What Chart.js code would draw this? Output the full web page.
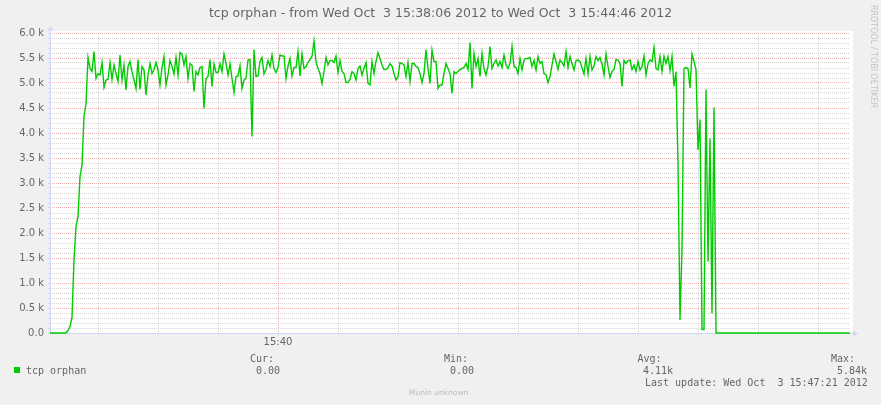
<!DOCTYPE html>
<html>
<head>
<meta charset="utf-8">
<script src="https://cdn.jsdelivr.net/npm/chart.js@4/dist/chart.umd.min.js"></script>
<style>
html,body{margin:0;padding:0;background:#f0f0f0;}
#wrap{position:relative;width:881px;height:405px;overflow:hidden;background:#f0f0f0;}
#c{position:absolute;left:0;top:0;}
.t{position:absolute;font-family:'DejaVu Sans Mono',monospace;font-size:10px;line-height:12px;color:#666;white-space:pre;}
#title{position:absolute;left:0;top:5px;width:881px;text-align:center;font-family:'DejaVu Sans',sans-serif;font-size:12.5px;line-height:15px;color:#666;white-space:pre;}
#swatch{position:absolute;left:14px;top:367px;width:6px;height:6px;background:#00cc00;}
#munin{position:absolute;left:409px;top:388px;font-family:'DejaVu Sans',sans-serif;font-size:7.5px;line-height:10px;color:#bbb;white-space:pre;}
#rrd{position:absolute;left:868px;top:5px;writing-mode:vertical-rl;font-family:'DejaVu Sans',sans-serif;font-size:8px;line-height:10px;color:#c4c4c4;white-space:pre;}
</style>
</head>
<body>
<div id="wrap">
<canvas id="c" width="881" height="405"></canvas>
<div id="title"></div>
<div id="swatch"></div>
<div class="t" id="lname" style="left:26px;top:364.5px;"></div>
<div class="t" id="h0" style="left:250px;top:352.5px;"></div>
<div class="t" id="v0" style="left:256px;top:364.5px;"></div>
<div class="t" id="h1" style="left:444px;top:352.5px;"></div>
<div class="t" id="v1" style="left:450px;top:364.5px;"></div>
<div class="t" id="h2" style="left:637.5px;top:352.5px;"></div>
<div class="t" id="v2" style="left:643px;top:364.5px;"></div>
<div class="t" id="h3" style="left:831px;top:352.5px;"></div>
<div class="t" id="v3" style="left:837px;top:364.5px;"></div>
<div class="t" id="lastupd" style="left:645px;top:377px;"></div>
<div id="munin"></div>
<div id="rrd"></div>
</div>
<script>
// ---------- data ----------
const titleText = 'tcp orphan - from Wed Oct  3 15:38:06 2012 to Wed Oct  3 15:44:46 2012';
const seriesName = 'tcp orphan';
const startTime = [15, 38, 6];          // first sample (h, m, s), one sample per second
const statHeads = ['Cur:', 'Min:', 'Avg:', 'Max:'];
const statValues = ['0.00', '0.00', '4.11k', '5.84k'];
const lastUpdate = 'Last update: Wed Oct  3 15:47:21 2012';
const footerText = 'Munin unknown';
const sideText = 'RRDTOOL / TOBI OETIKER';

// x grid positions (sample index) and labelled ones
const xGridIdx = [24, 54, 84, 114, 144, 174, 204, 234, 264, 294, 324, 354, 384];
const xLabelIdx = [114];
const xLabelText = ['15:40'];

// y axis
const yMin = 0, yMax = 6000, yMinorStep = 100, yMajorStep = 500;

// tcp orphan values, one per second
const orphanValues = [
0,0,0,0,0,0,0,0,0,
50,130,310,1460,2130,2330,3130,3360,4340,4580,
5510,5290,5230,5630,5090,5190,5160,5410,4910,5060,
5070,5410,5070,5360,5190,5030,5560,5060,5360,4860,
5330,5430,5230,5060,4890,5470,4870,5330,5260,4760,
5160,5390,5190,5270,5410,5260,4960,5310,5530,4960,
5160,5450,5330,5180,5510,5160,5610,5580,5360,5530,
5090,5390,5360,4830,5230,5160,5310,5330,4490,
5090,5130,5470,4930,5380,5210,5210,5380,5230,5580,
5390,5160,5390,5090,4810,5130,5140,5340,4890,5060,
5090,5460,5470,3930,5670,5130,5140,5430,5510,5180,
5270,5450,5330,5560,5290,5210,5310,5560,5540,5540,
5090,5340,5490,5140,5310,5310,5630,5140,5580,5290,
5330,5410,5470,5530,5840,5430,5290,5190,4990,5230,
5510,5360,5450,5450,5410,5540,5210,5450,5230,5190,
5010,5010,5070,5230,5190,5060,5290,5340,5160,5290,
5410,4990,4960,5430,5190,5430,5610,5490,5360,5270,
5270,5310,5390,5340,5190,5060,5130,5410,5390,5360,
5130,5410,5030,5390,5390,5330,5310,5190,5010,5190,
5670,5290,4990,5660,5430,5430,4890,4960,4960,5190,
5390,5290,5190,4790,5230,5190,5230,5270,5290,5310,
5390,5270,5810,4890,5590,5330,5490,5130,5590,5290,
5160,5330,5730,5290,5390,5460,5340,5430,5310,5560,
5360,5290,5390,5730,5330,5310,5190,5490,
5260,5460,5490,5490,5510,5330,5450,5260,5530,5390,
5430,5190,5160,5010,5130,5360,5580,5430,5270,5460,
5410,5340,5630,5310,5530,5390,5260,5450,5460,5430,
5310,5180,5490,5180,5530,5260,5340,5530,5450,5510,
5380,5160,5580,5330,5110,5230,5270,5470,5460,5390,
4930,5450,5390,5450,5460,5270,5360,5230,5430,5260,
5330,5540,5160,5390,5460,5430,5710,5290,5260,5530,
5230,5530,5390,5530,5250,5530,4930,
5230,3390,260,1690,5290,5310,5290,4900,5580,5430,
5270,3660,4270,70,70,4870,1430,3890,390,4510,
0,0,0,0,0,0,0,0,0,0,
0,0,0,0,0,0,0,0,0,0,
0,0,0,0,0,0,0,0,0,0,
0,0,0,0,0,0,0,0,0,0,
0,0,0,0,0,0,0,0,0,0,
0,0,0,0,0,0,0,0,0,0,
0,0,0,0,0,0,0,0
];

// category labels: time of each sample
const pad2 = n => String(n).padStart(2, '0');
const timeLabels = orphanValues.map((_, i) => {
  const t = startTime[0] * 3600 + startTime[1] * 60 + startTime[2] + i;
  return pad2(Math.floor(t / 3600)) + ':' + pad2(Math.floor(t / 60) % 60) + ':' + pad2(t % 60);
});

// ---------- text ----------
document.getElementById('title').textContent = titleText;
document.getElementById('lname').textContent = seriesName;
statHeads.forEach((h, i) => {
  document.getElementById('h' + i).textContent = h;
  document.getElementById('v' + i).textContent = statValues[i];
});
document.getElementById('lastupd').textContent = lastUpdate;
document.getElementById('munin').textContent = footerText;
document.getElementById('rrd').textContent = sideText;

// ---------- styles ----------
const AXIS = '#CFD6F8';
const MINOR = 'rgba(140,140,140,0.35)';
const MAJOR = 'rgba(224,80,80,0.45)';
const FONT = '#666666';
const LINE = '#00CC00';

const plotFrame = {
  id: 'plotFrame',
  beforeDraw(chart) {
    const {ctx, chartArea: a} = chart;
    ctx.save();
    ctx.fillStyle = '#ffffff';
    ctx.fillRect(a.left, a.top - 2, a.right - a.left + 3, a.bottom - a.top + 2);
    ctx.restore();
  },
  beforeDatasetsDraw(chart) {
    const {ctx, chartArea: a} = chart;
    ctx.save();
    ctx.strokeStyle = AXIS;
    ctx.fillStyle = AXIS;
    ctx.lineWidth = 1;
    ctx.beginPath();
    ctx.moveTo(a.left + 0.5, a.bottom + 2);
    ctx.lineTo(a.left + 0.5, a.top - 4);
    ctx.moveTo(a.left - 2, a.bottom + 0.5);
    ctx.lineTo(a.right + 4, a.bottom + 0.5);
    ctx.stroke();
    ctx.beginPath();
    ctx.moveTo(a.left + 0.5, a.top - 7);
    ctx.lineTo(a.left - 2.5, a.top - 2.5);
    ctx.lineTo(a.left + 3.5, a.top - 2.5);
    ctx.closePath();
    ctx.fill();
    ctx.beginPath();
    ctx.moveTo(a.right + 8, a.bottom + 0.5);
    ctx.lineTo(a.right + 3, a.bottom - 2.5);
    ctx.lineTo(a.right + 3, a.bottom + 3.5);
    ctx.closePath();
    ctx.fill();
    ctx.restore();
  }
};

const tickFont = {family: 'DejaVu Sans', size: 10, weight: 'normal'};

new Chart(document.getElementById('c'), {
  type: 'line',
  data: {
    labels: timeLabels,
    datasets: [{
      label: seriesName,
      data: orphanValues,
      borderColor: LINE,
      borderWidth: 1.4,
      pointRadius: 0,
      pointHoverRadius: 0,
      tension: 0,
      fill: false,
      clip: 3
    }]
  },
  options: {
    responsive: false,
    animation: false,
    devicePixelRatio: 1,
    events: [],
    layout: {padding: {left: 0, right: 31, top: 33, bottom: 52}},
    plugins: {
      legend: {display: false},
      tooltip: {enabled: false},
      title: {display: false}
    },
    scales: {
      x: {
        type: 'category',
        offset: false,
        afterFit(s) { s.height = 20; },
        afterBuildTicks(s) { s.ticks = xGridIdx.map(v => ({value: v})); },
        ticks: {
          autoSkip: false, maxRotation: 0, minRotation: 0,
          color: FONT, font: tickFont, padding: 1,
          callback(v) { const k = xLabelIdx.indexOf(v); return k >= 0 ? xLabelText[k] : ''; }
        },
        grid: {
          color: c => (c.tick && xLabelIdx.includes(c.tick.value)) ? MAJOR : MINOR,
          lineWidth: 1, tickLength: 2, tickColor: AXIS, drawTicks: true
        },
        border: {display: false, dash: [1, 1]}
      },
      y: {
        min: yMin, max: yMax,
        afterFit(s) { s.width = 50; },
        ticks: {
          stepSize: yMinorStep, maxTicksLimit: 1000, autoSkip: false,
          color: FONT, font: tickFont, padding: 4,
          callback(v) {
            if (v % yMajorStep !== 0) return '';
            return v === 0 ? '0.0' : (v / 1000).toFixed(1) + ' k';
          }
        },
        grid: {
          color: c => (c.tick && c.tick.value % yMajorStep === 0) ? MAJOR : MINOR,
          lineWidth: 1, tickLength: 2, tickColor: AXIS
        },
        border: {display: false, dash: [1, 1]}
      }
    }
  },
  plugins: [plotFrame]
});
</script>
</body>
</html>
